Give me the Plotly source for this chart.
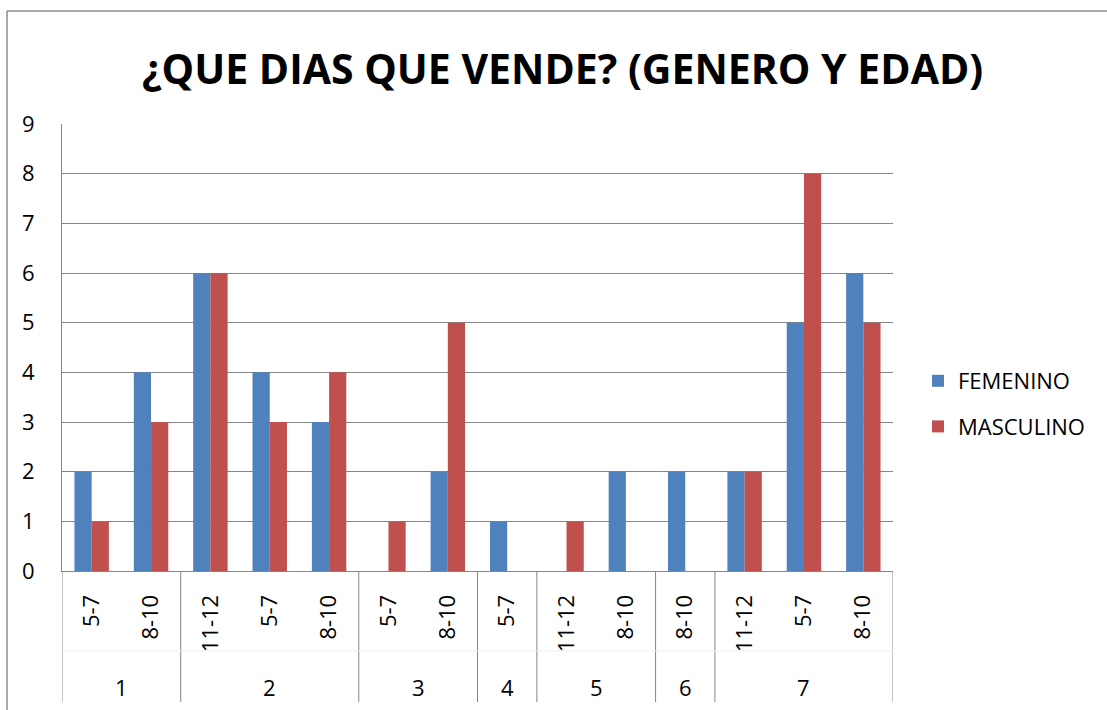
import plotly.graph_objects as go

# ---- data ----
days = ["1", "1", "2", "2", "2", "3", "3", "4", "5", "5", "6", "7", "7", "7"]
ages = ["5-7", "8-10", "11-12", "5-7", "8-10", "5-7", "8-10", "5-7", "11-12", "8-10", "8-10", "11-12", "5-7", "8-10"]
femenino = [2, 4, 6, 4, 3, 0, 2, 1, 0, 2, 2, 2, 5, 6]
masculino = [1, 3, 6, 3, 4, 1, 5, 0, 1, 0, 0, 2, 8, 5]
y_ticks = [0, 1, 2, 3, 4, 5, 6, 7, 8, 9]
title = "¿QUE DIAS QUE VENDE? (GENERO Y EDAD)"

W, H = 1107, 710
L, R, T, B = 62, 1107 - 893, 124, 710 - 571
PW, PH = W - L - R, H - T - B

def px_x(px):
    return (px - L) / PW

def px_y(py):
    return (H - B - py) / PH

FONT = "Open Sans"
BLUE = "#4F81BD"
RED = "#C0504D"
GRID = "#868686"

xs = list(range(len(ages)))

fig = go.Figure()
fig.add_trace(go.Bar(x=xs, y=femenino, name="FEMENINO", marker_color=BLUE,
                     marker_line_width=0, legendgroup="f"))
fig.add_trace(go.Bar(x=xs, y=masculino, name="MASCULINO", marker_color=RED,
                     marker_line_width=0, legendgroup="m"))

# group boundaries and labels
groups = []
for i, d in enumerate(days):
    if groups and groups[-1][0] == d:
        groups[-1][2] = i
    else:
        groups.append([d, i, i])

shapes = []
annotations = []
bounds = sorted(set([g[1] - 0.5 for g in groups] + [groups[-1][2] + 0.5]))
for b in bounds:
    shapes.append(dict(type="line", xref="x", yref="paper", x0=b, x1=b,
                       y0=0, y1=px_y(702), line=dict(color=GRID, width=1)))
shapes.append(dict(type="line", xref="x", yref="paper", x0=-0.5, x1=len(ages) - 0.5,
                   y0=px_y(651), y1=px_y(651), line=dict(color="#EFEFEF", width=1)))
for d, a, b in groups:
    annotations.append(dict(x=(a + b) / 2, y=px_y(687), xref="x", yref="paper",
                            text=d, showarrow=False, yanchor="middle",
                            font=dict(family=FONT, size=22, color="black")))

# outer chart border (left and top)
shapes.append(dict(type="line", xref="paper", yref="paper", x0=px_x(7), x1=px_x(7),
                   y0=px_y(11), y1=px_y(720), line=dict(color="#8C8C8C", width=1.5)))
shapes.append(dict(type="line", xref="paper", yref="paper", x0=px_x(7), x1=px_x(1120),
                   y0=px_y(11), y1=px_y(11), line=dict(color="#8C8C8C", width=1.5)))

annotations.append(dict(x=px_x(562), y=px_y(68), xref="paper", yref="paper",
                        text="<b>" + title + "</b>", showarrow=False,
                        xanchor="center", yanchor="middle",
                        font=dict(family=FONT, size=41, color="black")))

fig.update_layout(
    width=W, height=H,
    margin=dict(l=L, r=R, t=T, b=B, pad=0),
    paper_bgcolor="white", plot_bgcolor="white",
    barmode="group", bargap=0.42, bargroupgap=0,
    font=dict(family=FONT, color="black"),
    showlegend=True,
    legend=dict(x=px_x(918), y=px_y(360), xanchor="left", yanchor="top",
                font=dict(family=FONT, size=22, color="black"),
                tracegroupgap=14, bgcolor="rgba(0,0,0,0)"),
    shapes=shapes, annotations=annotations,
)
fig.update_xaxes(range=[-0.5, len(ages) - 0.5], tickmode="array", tickvals=xs,
                 ticktext=ages, tickangle=-90, showgrid=False, zeroline=False,
                 showline=True, linecolor=GRID, linewidth=1, ticks="",
                 ticklabelstandoff=14, tickfont=dict(family=FONT, size=22, color="black"))
fig.update_yaxes(range=[0, 9], tickmode="array", tickvals=y_ticks,
                 showgrid=True, gridcolor=GRID, gridwidth=1, zeroline=False,
                 showline=True, linecolor=GRID, linewidth=1, ticks="",
                 ticklabelstandoff=22, tickfont=dict(family=FONT, size=22, color="black"))

fig.write_html("out.html", config={"displayModeBar": False},
               post_script="document.body.style.margin='0';")
